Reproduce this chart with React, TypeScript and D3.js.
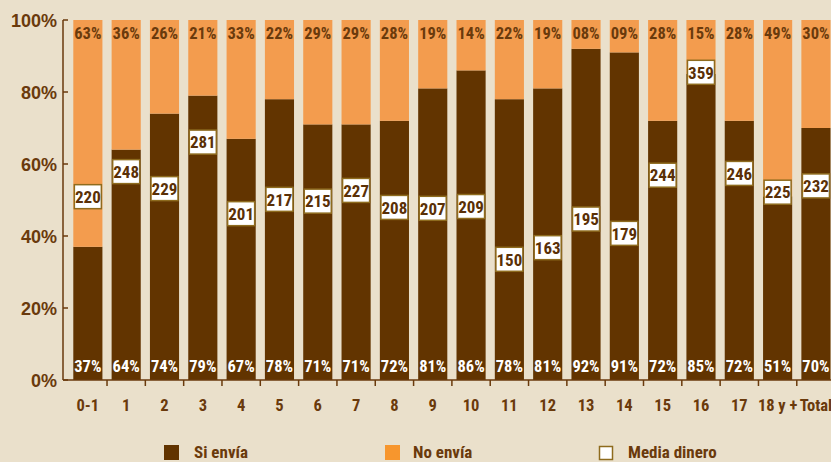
import * as d3 from "d3";

const categories = ["0-1", "1", "2", "3", "4", "5", "6", "7", "8", "9", "10", "11", "12", "13", "14", "15", "16", "17", "18 y +", "Total"];
const siEnvia = [37, 64, 74, 79, 67, 78, 71, 71, 72, 81, 86, 78, 81, 92, 91, 72, 85, 72, 51, 70];
const noEnvia = [63, 36, 26, 21, 33, 22, 29, 29, 28, 19, 14, 22, 19, 8, 9, 28, 15, 28, 49, 30];
const mediaDinero = [220, 248, 229, 281, 201, 217, 215, 227, 208, 207, 209, 150, 163, 195, 179, 244, 359, 246, 225, 232];
const yTicks = [0, 20, 40, 60, 80, 100];

const W = 831;
const H = 462;
const BG = "#EAE0CB";
const DARK = "#623400";
const ORANGE = "#F39C4E";
const TEXT = "#6A3A0C";
const BOX = "#8E6B1E";
const NARROW = "'Liberation Sans Narrow', 'Roboto Condensed', 'DejaVu Sans Condensed', sans-serif";

export default function App() {
  const x = d3.scaleBand<string>().domain(categories).range([68.7, 835.1]).paddingInner(0.24).paddingOuter(0.12);
  const y = d3.scaleLinear().domain([0, 100]).range([380, 20]);
  // media dinero sits on its own hidden scale
  const yMedia = d3.scaleLinear().domain([150, 359]).range([259.3, 72.3]);

  const rows = categories.map((c, i) => ({ cat: c, si: siEnvia[i], no: noEnvia[i] }));
  const stacked = d3.stack<any>().keys(["si", "no"])(rows);
  const colors = [DARK, ORANGE];
  const pad = d3.format("02d");
  const bw = x.bandwidth();
  const step = x.step();

  return (
    <svg width={W} height={H} style={{ position: "absolute", left: 0, top: 0, background: BG }}>
      <rect width={W} height={H} fill={BG} />
      {stacked.map((layer, li) => (
        <g key={layer.key}>
          {layer.map((d, i) => (
            <rect key={i} x={x(categories[i])} y={y(d[1])} width={bw} height={y(d[0]) - y(d[1])} fill={colors[li]} />
          ))}
        </g>
      ))}

      {/* percentage labels */}
      {rows.map((r) => (
        <g key={r.cat} fontFamily={NARROW} fontWeight="bold" fontSize={16.5} textAnchor="middle">
          <text x={x(r.cat)! + bw / 2} y={39} fill={TEXT}>{pad(r.no)}%</text>
          <text x={x(r.cat)! + bw / 2} y={372} fill="#FFFFFF">{r.si}%</text>
        </g>
      ))}

      {/* media dinero boxes */}
      {rows.map((r, i) => {
        const cy = yMedia(mediaDinero[i]);
        const cx = x(r.cat)! + bw / 2;
        return (
          <g key={"m" + r.cat}>
            <rect x={cx - 13.5} y={cy - 12} width={27} height={24} fill="#FFFFFF" stroke={BOX} strokeWidth={1.5} />
            <text x={cx} y={cy + 6.2} textAnchor="middle" fontFamily={NARROW} fontWeight="bold" fontSize={17} fill="#5A3006">
              {mediaDinero[i]}
            </text>
          </g>
        );
      })}

      {/* axes */}
      <line x1={63} x2={63} y1={y(100)} y2={y(0)} stroke={TEXT} strokeWidth={1.5} />
      <line x1={63} x2={W} y1={y(0)} y2={y(0)} stroke={TEXT} strokeWidth={1.5} />
      {yTicks.map((t) => (
        <g key={t}>
          <line x1={63} x2={68} y1={y(t)} y2={y(t)} stroke={TEXT} strokeWidth={1.5} />
          <text x={57} y={y(t) + 6.5} textAnchor="end" fontFamily="'Liberation Sans', Arial, sans-serif" fontWeight="bold" fontSize={18} fill={TEXT}>
            {t}%
          </text>
        </g>
      ))}
      {categories.slice(0, -1).map((c) => (
        <line key={"t" + c} x1={x(c)! + bw + (step - bw) / 2} x2={x(c)! + bw + (step - bw) / 2} y1={y(0)} y2={y(0) + 6} stroke={TEXT} strokeWidth={1.5} />
      ))}
      {categories.map((c) => (
        <text key={"c" + c} x={x(c)! + bw / 2} y={411} textAnchor="middle" fontFamily={NARROW} fontWeight="bold" fontSize={16.5} fill={TEXT}>
          {c}
        </text>
      ))}

      {/* legend */}
      <g fontFamily={NARROW} fontWeight="bold" fontSize={17} fill={TEXT}>
        <rect x={164} y={445} width={15} height={15} fill={DARK} />
        <text x={194} y={457.5}>Si envía</text>
        <rect x={385} y={445} width={15} height={15} fill="#F7962D" />
        <text x={413} y={457.5}>No envía</text>
        <rect x={599.5} y={446.5} width={13} height={13} fill="#FFFFFF" stroke={BOX} strokeWidth={1.5} />
        <text x={628} y={457.5}>Media dinero</text>
      </g>
    </svg>
  );
}
